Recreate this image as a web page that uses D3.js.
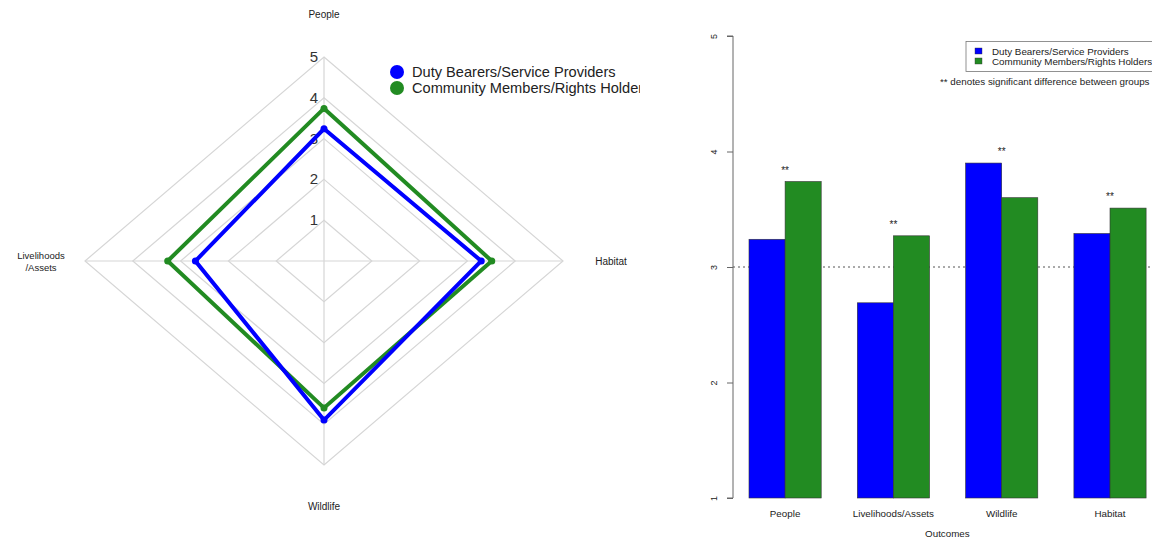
<!DOCTYPE html>
<html><head><meta charset="utf-8">
<script src="https://cdn.jsdelivr.net/npm/d3@7"></script>
<style>body{margin:0;background:#fff}svg{display:block;font-family:"Liberation Sans",Arial,sans-serif}</style>
</head><body>
<svg id="c" width="1152" height="539"></svg>
<script>
// ---- data ----
const categories = ["People", "Livelihoods/Assets", "Wildlife", "Habitat"];
const seriesNames = ["Duty Bearers/Service Providers", "Community Members/Rights Holders"];
const dutyBearers = [3.24, 2.69, 3.90, 3.29];
const community = [3.74, 3.27, 3.60, 3.51];
const significant = [true, true, true, true];
const radarOrder = ["People", "Habitat", "Wildlife", "Livelihoods/Assets"];
const radarLabels = {"People": ["People"], "Habitat": ["Habitat"], "Wildlife": ["Wildlife"], "Livelihoods/Assets": ["Livelihoods", "/Assets"]};
const radarTicks = [1, 2, 3, 4, 5];
const barTicks = [1, 2, 3, 4, 5];
const colors = ["#0000ff", "#228b22"];
const series = [dutyBearers, community];

const svg = d3.select("#c");

// ---- radar (left) ----
const defs = svg.append("defs");
defs.append("clipPath").attr("id", "leftClip").append("rect").attr("x", 0).attr("y", 0).attr("width", 640).attr("height", 539);
defs.append("clipPath").attr("id", "rightClip").append("rect").attr("x", 690).attr("y", 0).attr("width", 462).attr("height", 539);

const L = svg.append("g").attr("clip-path", "url(#leftClip)");
const cx = 324, cy = 261;
const rx = d3.scaleLinear().domain([0, 5]).range([0, 239]);
const ry = d3.scaleLinear().domain([0, 5]).range([0, 204]);
const dirs = {"People": [0, -1], "Habitat": [1, 0], "Wildlife": [0, 1], "Livelihoods/Assets": [-1, 0]};
const pt = (cat, v) => [cx + dirs[cat][0] * rx(v), cy + dirs[cat][1] * ry(v)];
const line = d3.line();

radarTicks.forEach(t => {
  L.append("path").attr("d", line(radarOrder.map(c => pt(c, t))) + "Z")
    .attr("fill", "none").attr("stroke", "#d6d6d6").attr("stroke-width", 1.2);
});
radarOrder.forEach(c => {
  L.append("path").attr("d", line([pt(c, 0), pt(c, 5)]))
    .attr("stroke", "#d6d6d6").attr("stroke-width", 1.2);
});
radarTicks.forEach(t => {
  const p = pt("People", t);
  L.append("text").attr("x", p[0] - 6).attr("y", p[1] + 5).attr("text-anchor", "end")
    .attr("font-size", 15).attr("fill", "#333").text(t);
});
// axis labels
const labPos = {"People": [cx, 15], "Habitat": [611, 262], "Wildlife": [cx, 507], "Livelihoods/Assets": [41, 256]};
radarOrder.forEach(c => {
  const lines = radarLabels[c];
  const tx = L.append("text").attr("text-anchor", "middle").attr("font-size", c === "Livelihoods/Assets" ? 9.5 : 10).attr("fill", "#222");
  lines.forEach((s, i) => tx.append("tspan").attr("x", labPos[c][0]).attr("y", labPos[c][1] + i * 12 + 3).text(s));
});
[1, 0].forEach(si => {
  const vals = radarOrder.map(c => series[si][categories.indexOf(c)]);
  const pts = radarOrder.map((c, i) => pt(c, vals[i]));
  L.append("path").attr("d", line(pts) + "Z").attr("fill", "none")
    .attr("stroke", colors[si]).attr("stroke-width", 4).attr("stroke-linejoin", "miter");
  L.selectAll(null).data(pts).enter().append("circle")
    .attr("cx", d => d[0]).attr("cy", d => d[1]).attr("r", 3.5).attr("fill", colors[si]);
});
// radar legend
seriesNames.forEach((n, i) => {
  L.append("circle").attr("cx", 397).attr("cy", 72 + i * 16).attr("r", 7).attr("fill", colors[i]);
  L.append("text").attr("x", 412).attr("y", 77 + i * 16).attr("font-size", 14.6).attr("fill", "#222").text(n);
});

// ---- bar chart (right) ----
const R = svg.append("g").attr("clip-path", "url(#rightClip)");
const y = d3.scaleLinear().domain([1, 5]).range([498, 36]);
const x0 = d3.scaleBand().domain(categories).range([712.9, 1182.2]).paddingInner(1 / 3).paddingOuter(1 / 3);
const x1 = d3.scaleBand().domain([0, 1]).range([0, x0.bandwidth()]);

// reference line at 3
R.append("line").attr("x1", 733).attr("x2", 1152).attr("y1", y(3)).attr("y2", y(3))
  .attr("stroke", "#555").attr("stroke-width", 1).attr("stroke-dasharray", "2,3");

categories.forEach((c, ci) => {
  series.forEach((s, si) => {
    R.append("rect").attr("x", x0(c) + x1(si)).attr("y", y(s[ci]))
      .attr("width", x1.bandwidth()).attr("height", y(1) - y(s[ci]))
      .attr("fill", colors[si]).attr("stroke", "#333").attr("stroke-width", 0.6);
  });
  if (significant[ci]) {
    const top = Math.max(dutyBearers[ci], community[ci]);
    R.append("text").attr("x", x0(c) + x0.bandwidth() / 2).attr("y", y(top) - 8)
      .attr("text-anchor", "middle").attr("font-size", 10).attr("fill", "#222").text("**");
  }
  R.append("text").attr("x", x0(c) + x0.bandwidth() / 2).attr("y", 517)
    .attr("text-anchor", "middle").attr("font-size", 9.8).attr("fill", "#222").text(c);
});

// y axis
const yAxis = d3.axisLeft(y).tickValues(barTicks).tickSize(6).tickFormat(d3.format("d"));
const ga = R.append("g").attr("transform", "translate(733,0)").call(yAxis);
ga.select(".domain").attr("stroke", "#666").attr("d", `M-6,${y(1)}H0V${y(5)}H-6`);
ga.selectAll(".tick line").attr("stroke", "#666");
ga.selectAll(".tick text").attr("font-size", 9).attr("fill", "#222")
  .attr("x", 0).attr("dy", 0)
  .attr("transform", "translate(-16,0) rotate(-90)").attr("text-anchor", "middle");

R.append("text").attr("x", x0(categories[1]) + x0.bandwidth() / 2 + 54).attr("y", 537)
  .attr("text-anchor", "middle").attr("font-size", 9.8).attr("fill", "#222").text("Outcomes");

// bar legend
R.append("rect").attr("x", 966).attr("y", 41.5).attr("width", 200).attr("height", 30)
  .attr("fill", "#fff").attr("stroke", "#777").attr("stroke-width", 0.8);
seriesNames.forEach((n, i) => {
  R.append("rect").attr("x", 975).attr("y", 48 + i * 10).attr("width", 7).attr("height", 6)
    .attr("fill", colors[i]).attr("stroke", "#333").attr("stroke-width", 0.4);
  R.append("text").attr("x", 992).attr("y", 55 + i * 10).attr("font-size", 9.8).attr("fill", "#222").text(n);
});
R.append("text").attr("x", 940).attr("y", 85).attr("font-size", 9.8).attr("fill", "#222")
  .text("** denotes significant difference between groups");
</script>
</body></html>
